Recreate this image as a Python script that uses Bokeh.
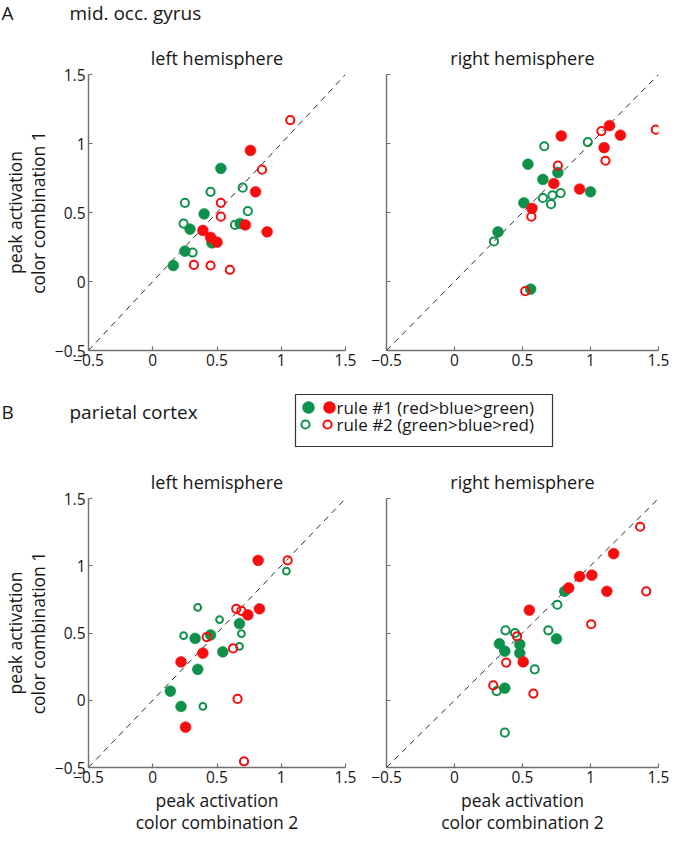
from bokeh.plotting import figure
from bokeh.layouts import column, row
from bokeh.models import Range1d, FixedTicker
from bokeh.core.properties import value
from bokeh.embed import file_html
from bokeh.resources import INLINE

FONT = "Open Sans"
RED = "#f70d0d"
GREEN = "#0f914b"
AXIS_GRAY = "#707070"
TEXT = "#161616"

# ---------------- data ----------------
ticks = [-0.5, 0, 0.5, 1, 1.5]
tick_labels = ["\u22120.5", "0", "0.5", "1", "1.5"]
identity = [-0.5, 1.5]

# A: mid. occ. gyrus, left hemisphere
moc_left_r1_red_x = [0.76, 0.80, 0.89, 0.72, 0.39, 0.45, 0.50]
moc_left_r1_red_y = [0.95, 0.65, 0.36, 0.41, 0.37, 0.32, 0.285]
moc_left_r1_green_x = [0.53, 0.40, 0.29, 0.68, 0.46, 0.25, 0.16]
moc_left_r1_green_y = [0.82, 0.49, 0.38, 0.42, 0.28, 0.22, 0.116]
moc_left_r2_green_x = [0.45, 0.70, 0.25, 0.74, 0.24, 0.64, 0.31]
moc_left_r2_green_y = [0.65, 0.68, 0.57, 0.51, 0.42, 0.41, 0.21]
moc_left_r2_red_x = [1.07, 0.85, 0.53, 0.53, 0.32, 0.45, 0.60]
moc_left_r2_red_y = [1.17, 0.81, 0.57, 0.47, 0.12, 0.116, 0.085]

# A: mid. occ. gyrus, right hemisphere
moc_right_r1_red_x = [1.14, 1.22, 0.785, 1.10, 0.73, 0.92, 0.57]
moc_right_r1_red_y = [1.13, 1.06, 1.055, 0.97, 0.71, 0.67, 0.53]
moc_right_r1_green_x = [0.54, 0.76, 0.65, 1.00, 0.51, 0.32, 0.56]
moc_right_r1_green_y = [0.85, 0.79, 0.74, 0.65, 0.57, 0.36, -0.055]
moc_right_r2_green_x = [0.66, 0.98, 0.78, 0.72, 0.65, 0.71, 0.29]
moc_right_r2_green_y = [0.98, 1.01, 0.64, 0.625, 0.605, 0.56, 0.29]
moc_right_r2_red_x = [1.08, 1.11, 0.76, 0.565, 0.52, 1.48]
moc_right_r2_red_y = [1.09, 0.875, 0.84, 0.47, -0.07, 1.10]

# B: parietal cortex, left hemisphere
par_left_r1_red_x = [0.82, 0.83, 0.74, 0.39, 0.22, 0.255]
par_left_r1_red_y = [1.04, 0.68, 0.635, 0.35, 0.285, -0.20]
par_left_r1_green_x = [0.675, 0.45, 0.33, 0.545, 0.35, 0.137, 0.22]
par_left_r1_green_y = [0.57, 0.485, 0.46, 0.36, 0.23, 0.068, -0.046]
par_left_r2_green_x = [1.04, 0.35, 0.52, 0.24, 0.69, 0.675, 0.39]
par_left_r2_green_y = [0.96, 0.69, 0.60, 0.48, 0.495, 0.40, -0.046]
par_left_r2_red_x = [1.05, 0.65, 0.69, 0.42, 0.625, 0.66, 0.71]
par_left_r2_red_y = [1.04, 0.68, 0.665, 0.47, 0.385, 0.01, -0.454]

# B: parietal cortex, right hemisphere
par_right_r1_red_x = [1.17, 1.01, 0.92, 0.84, 1.12, 0.55, 0.505]
par_right_r1_red_y = [1.09, 0.93, 0.92, 0.835, 0.81, 0.67, 0.285]
par_right_r1_green_x = [0.81, 0.75, 0.33, 0.37, 0.48, 0.48, 0.37]
par_right_r1_green_y = [0.81, 0.457, 0.42, 0.365, 0.415, 0.35, 0.09]
par_right_r2_green_x = [0.756, 0.375, 0.445, 0.69, 0.59, 0.31, 0.37]
par_right_r2_green_y = [0.71, 0.52, 0.50, 0.52, 0.23, 0.068, -0.24]
par_right_r2_red_x = [1.365, 1.41, 1.005, 0.46, 0.38, 0.285, 0.58]
par_right_r2_red_y = [1.29, 0.81, 0.565, 0.476, 0.28, 0.11, 0.05]

legend_labels = ["rule #1 (red>blue>green)", "rule #2 (green>blue>red)"]
section_labels = ["A", "B"]
section_titles = ["mid. occ. gyrus", "parietal cortex"]
hemisphere_titles = ["left hemisphere", "right hemisphere"]
ylabel_text = "peak activation\ncolor combination 1"
xlabel_text = "peak activation\ncolor combination 2"

PAGE_W = 670
FILLED_SIZE = 10.8
OPEN_SIZE = 8.2


def panel(series, title, width, height, left, right, top, bottom,
          show_ylabels, xlabel, open_green_size):
    (r1r_x, r1r_y, r1g_x, r1g_y, r2g_x, r2g_y, r2r_x, r2r_y) = series
    p = figure(width=width, height=height,
               x_range=Range1d(-0.5, 1.5), y_range=Range1d(-0.5, 1.5),
               output_backend="svg", toolbar_location=None,
               min_border_left=left, min_border_right=right,
               min_border_top=top, min_border_bottom=bottom)
    p.outline_line_color = None
    p.grid.visible = False
    p.title.text = title
    p.title.align = "center"
    p.title.text_font = FONT
    p.title.text_font_size = "18px"
    p.title.text_font_style = "normal"
    p.title.text_color = TEXT

    p.line(identity, identity, line_dash="6 5", line_color="#2a2a2a", line_width=1)

    p.scatter(r1g_x, r1g_y, size=FILLED_SIZE, marker="circle", fill_color=GREEN, line_color=GREEN, line_width=0.6)
    p.scatter(r1r_x, r1r_y, size=FILLED_SIZE, marker="circle", fill_color=RED, line_color=RED, line_width=0.6)
    p.scatter(r2g_x, r2g_y, size=open_green_size, marker="circle", fill_color=None, line_color=GREEN, line_width=2)
    p.scatter(r2r_x, r2r_y, size=OPEN_SIZE, marker="circle", fill_color=None, line_color=RED, line_width=2)

    for ax in (p.xaxis[0], p.yaxis[0]):
        ax.ticker = FixedTicker(ticks=ticks)
        ax.major_label_overrides = dict(zip(ticks, tick_labels))
        ax.axis_line_color = AXIS_GRAY
        ax.axis_line_width = 1.4
        ax.major_tick_line_color = AXIS_GRAY
        ax.major_tick_line_width = 1.2
        ax.major_tick_in = 4
        ax.major_tick_out = 0
        ax.minor_tick_line_color = None
        ax.major_label_text_font = FONT
        ax.major_label_text_font_size = "15.5px"
        ax.major_label_text_color = TEXT
        ax.major_label_standoff = 3
        ax.axis_label_text_font = FONT
        ax.axis_label_text_font_size = "17.5px"
        ax.axis_label_text_font_style = "normal"
        ax.axis_label_text_color = TEXT
        ax.axis_label_standoff = 2
        ax.axis_label_text_line_height = 0.95
    if show_ylabels:
        p.yaxis[0].axis_label = ylabel_text
    else:
        p.yaxis[0].major_label_text_font_size = "0px"
        p.yaxis[0].major_label_text_color = None
    if xlabel:
        p.xaxis[0].axis_label = xlabel_text
    return p


def strip(h):
    s = figure(width=PAGE_W, height=h, x_range=Range1d(0, PAGE_W),
               y_range=Range1d(h, 0), x_axis_type=None, y_axis_type=None,
               output_backend="svg", toolbar_location=None, min_border=0, title=None)
    s.outline_line_color = None
    s.grid.visible = False
    return s


# header A
head_a = strip(24)
head_a.text(x=[1, 69], y=[12, 12], text=[section_labels[0], section_titles[0]],
            text_font=value(FONT), text_font_size=value("19px"), text_color=TEXT,
            text_baseline="middle")

tl = panel((moc_left_r1_red_x, moc_left_r1_red_y, moc_left_r1_green_x, moc_left_r1_green_y,
            moc_left_r2_green_x, moc_left_r2_green_y, moc_left_r2_red_x, moc_left_r2_red_y),
           hemisphere_titles[0], 365, 356, 70, 20, 50, 30, True, False, OPEN_SIZE)
tr = panel((moc_right_r1_red_x, moc_right_r1_red_y, moc_right_r1_green_x, moc_right_r1_green_y,
            moc_right_r2_green_x, moc_right_r2_green_y, moc_right_r2_red_x, moc_right_r2_red_y),
           hemisphere_titles[1], 305, 356, 21, 12, 50, 30, False, False, OPEN_SIZE)

# middle strip: section B + legend
mid = strip(68)
mid.text(x=[1, 69], y=[31, 31], text=[section_labels[1], section_titles[1]],
         text_font=value(FONT), text_font_size=value("19px"), text_color=TEXT,
         text_baseline="middle")
mid.quad(left=[295], right=[552], top=[14], bottom=[66], fill_color=None,
         line_color="#333333", line_width=1.2)
mid.scatter(x=[308, 329], y=[27, 27], size=12, marker="circle",
            fill_color=[GREEN, RED], line_color=[GREEN, RED], line_width=0.5)
mid.scatter(x=[305, 327], y=[44, 44], size=OPEN_SIZE, marker="circle",
            fill_color=None, line_color=[GREEN, RED], line_width=2)
mid.text(x=[336, 336], y=[27, 44], text=legend_labels,
         text_font=value(FONT), text_font_size=value("17px"), text_color=TEXT,
         text_baseline="middle")

bl = panel((par_left_r1_red_x, par_left_r1_red_y, par_left_r1_green_x, par_left_r1_green_y,
            par_left_r2_green_x, par_left_r2_green_y, par_left_r2_red_x, par_left_r2_red_y),
           hemisphere_titles[0], 365, 389, 70, 20, 50, 63, True, True, 6.8)
br = panel((par_right_r1_red_x, par_right_r1_red_y, par_right_r1_green_x, par_right_r1_green_y,
            par_right_r2_green_x, par_right_r2_green_y, par_right_r2_red_x, par_right_r2_red_y),
           hemisphere_titles[1], 305, 389, 21, 12, 50, 63, False, True, OPEN_SIZE)

layout = column(head_a, row(tl, tr), mid, row(bl, br), spacing=0)
open("out.html", "w").write(file_html(layout, INLINE))
